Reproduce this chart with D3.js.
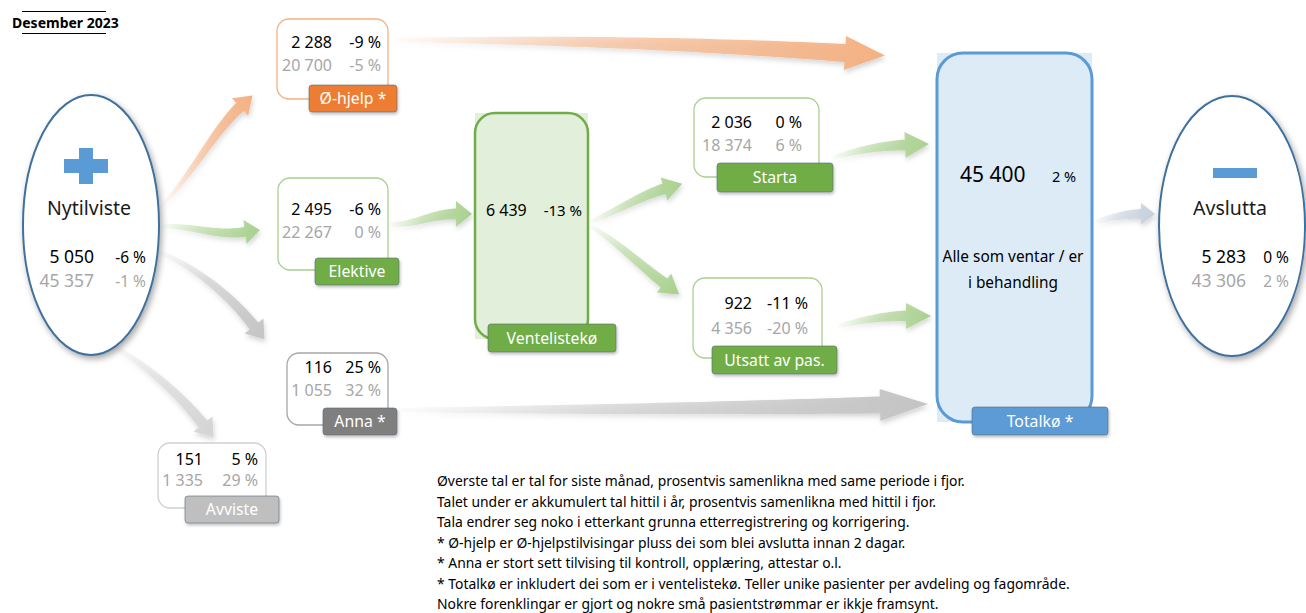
<!DOCTYPE html>
<html><head><meta charset="utf-8">
<script src="https://cdn.jsdelivr.net/npm/d3@7"></script>
<style>html,body{margin:0;padding:0;background:#fff;} svg{display:block;}</style>
</head><body><svg id="c" width="1306" height="613"></svg>
<script>
// ---------------- DATA ----------------
const title = "Desember 2023";
const nodeNames   = ["Nytilviste","Ø-hjelp *","Elektive","Anna *","Avviste","Ventelistekø","Starta","Utsatt av pas.","Totalkø *","Avslutta"];
const monthValues = [5050, 2288, 2495, 116, 151, 6439, 2036, 922, 45400, 5283];
const monthPct    = [-6, -9, -6, 25, 5, -13, 0, -11, 2, 0];
const ytdValues   = [45357, 20700, 22267, 1055, 1335, null, 18374, 4356, null, 43306];
const ytdPct      = [-1, -5, 0, 32, 29, null, 6, -20, null, 2];
const totalDesc   = ["Alle som ventar / er", "i behandling"];
const links = [
  ["Nytilviste","Ø-hjelp *"],["Nytilviste","Elektive"],["Nytilviste","Anna *"],["Nytilviste","Avviste"],
  ["Ø-hjelp *","Totalkø *"],["Elektive","Ventelistekø"],["Ventelistekø","Starta"],["Ventelistekø","Utsatt av pas."],
  ["Starta","Totalkø *"],["Utsatt av pas.","Totalkø *"],["Anna *","Totalkø *"],["Totalkø *","Avslutta"]
];
const notes = [
  "Øverste tal er tal for siste månad, prosentvis samenlikna med same periode i fjor.",
  "Talet under er akkumulert tal hittil i år, prosentvis samenlikna med hittil i fjor.",
  "Tala endrer seg noko i etterkant grunna etterregistrering og korrigering.",
  "* Ø-hjelp er Ø-hjelpstilvisingar pluss dei som blei avslutta innan 2 dagar.",
  "* Anna er stort sett tilvising til kontroll, opplæring, attestar o.l.",
  "* Totalkø er inkludert dei som er i ventelistekø. Teller unike pasienter per avdeling og fagområde.",
  "Nokre forenklingar er gjort og nokre små pasientstrømmar er ikkje framsynt."
];

// ---------------- STYLE / LAYOUT ----------------
const FONT = "'Noto Sans','DejaVu Sans',sans-serif";
const fill = d3.scaleOrdinal().domain(nodeNames)
  .range(["#ffffff","#ed7d31","#70ad47","#7f7f7f","#bfbfbf","#70ad47","#70ad47","#70ad47","#5b9bd5","#ffffff"]);
const edge = d3.scaleOrdinal().domain(nodeNames)
  .range(["#41719c","#f4b183","#a9d18e","#a6a6a6","#d0d0d0","#70ad47","#a9d18e","#a9d18e","#5b9bd5","#41719c"]);
const linkColor = d3.scaleOrdinal().domain(nodeNames)
  .range(["#c5d0dc","#f4b183","#a9d18e","#c4c4c4","#d4d4d4","#a9d18e","#a9d18e","#a9d18e","#c5d0dc","#c5d0dc"]);

const fmt = d3.formatLocale({thousands:" ", grouping:[3], decimal:",", currency:["",""], minus:"-"}).format(",d");
const pct = v => v + " %";

const ellipses = {
  "Nytilviste": {cx:91, cy:225, rx:68, ry:130, icon:"plus", nameY:215, numR:94, pctR:146, b1:263, b2:287},
  "Avslutta":   {cx:1232, cy:226, rx:73, ry:130, icon:"minus", nameY:215, numR:1246, pctR:1289, b1:263, b2:287}
};
const boxes = {
  "Ø-hjelp *":      {x:277, y:19,  w:111, h:80, lx:309, ly:85,  lw:88,  lh:27, numR:332, pctR:381, b1:48,  b2:71},
  "Elektive":       {x:278, y:178, w:110, h:92, lx:315, ly:258, lw:84,  lh:27, numR:332, pctR:381, b1:215, b2:238},
  "Anna *":         {x:287, y:353, w:101, h:72, lx:323, ly:408, lw:74,  lh:27, numR:332, pctR:381, b1:373, b2:396},
  "Avviste":        {x:158, y:443, w:108, h:65, lx:185, ly:496, lw:94,  lh:27, numR:203, pctR:258, b1:465, b2:486},
  "Starta":         {x:694, y:98,  w:125, h:79, lx:717, ly:163, lw:116, lh:29, numR:752, pctR:802, b1:128, b2:151},
  "Utsatt av pas.": {x:693, y:278, w:129, h:80, lx:712, ly:346, lw:125, lh:28, numR:752, pctR:808, b1:309, b2:334}
};
const tall = {
  "Ventelistekø": {x:475, y:113, w:113, h:226, r:20, lx:488, ly:324, lw:128, lh:28, numL:486, pctR:582, b:216, numSize:16, pctSize:15, pctL:null},
  "Totalkø *":    {x:937, y:53,  w:155, h:369, r:26, lx:972, ly:407, lw:136, lh:28, numL:960, pctL:1052, b:182, numSize:21, pctSize:14.5}
};
// arrow geometry: start, two control points, base of head, head length, widths
const geom = {
  "Nytilviste>Ø-hjelp *":        {p:[[163,205],[195,170],[215,130],[240,107]], hl:17, w0:3, w1:11, hw:24},
  "Nytilviste>Elektive":         {p:[[162,226],[195,226],[215,236],[245,232]], hl:15, w0:4, w1:10, hw:24},
  "Nytilviste>Anna *":           {p:[[160,252],[200,270],[232,298],[254,326]], hl:17, w0:4, w1:11, hw:24},
  "Nytilviste>Avviste":          {p:[[112,345],[150,368],[180,395],[203,424]], hl:17, w0:4, w1:11, hw:24},
  "Ø-hjelp *>Totalkø *":         {p:[[395,40],[560,40],[700,44],[845,53]], hl:40, w0:4, w1:18, hw:34},
  "Elektive>Ventelistekø":       {p:[[388,224],[415,226],[430,214],[456,214]], hl:16, w0:4, w1:11, hw:26},
  "Ventelistekø>Starta":         {p:[[590,222],[615,212],[640,196],[664,189]], hl:19, w0:4, w1:11, hw:24},
  "Ventelistekø>Utsatt av pas.": {p:[[590,226],[615,240],[640,265],[664,283]], hl:19, w0:4, w1:11, hw:24},
  "Starta>Totalkø *":            {p:[[832,158],[858,150],[880,146],[905,145]], hl:24, w0:4, w1:11, hw:26},
  "Utsatt av pas.>Totalkø *":    {p:[[838,326],[862,320],[885,316],[906,316]], hl:25, w0:4, w1:11, hw:26},
  "Anna *>Totalkø *":            {p:[[398,410],[560,410],[740,408],[880,405]], hl:48, w0:4, w1:17, hw:32},
  "Totalkø *>Avslutta":          {p:[[1094,222],[1110,218],[1125,214],[1141,214]], hl:14, w0:4, w1:10, hw:22}
};

// ---------------- DRAW ----------------
const svg = d3.select("#c");
const defs = svg.append("defs");
const sh = defs.append("filter").attr("id","shadow").attr("x","-20%").attr("y","-20%").attr("width","150%").attr("height","150%");
sh.append("feDropShadow").attr("dx",2).attr("dy",3).attr("stdDeviation",3).attr("flood-color","#000").attr("flood-opacity",0.35);
const sh2 = defs.append("filter").attr("id","ashadow").attr("x","-20%").attr("y","-50%").attr("width","150%").attr("height","200%");
sh2.append("feDropShadow").attr("dx",1).attr("dy",3).attr("stdDeviation",2.5).attr("flood-color","#000").attr("flood-opacity",0.18);
const sh3 = defs.append("filter").attr("id","lshadow").attr("x","-20%").attr("y","-30%").attr("width","150%").attr("height","180%");
sh3.append("feDropShadow").attr("dx",1).attr("dy",2).attr("stdDeviation",1.5).attr("flood-color","#000").attr("flood-opacity",0.25);

// title
svg.append("text").attr("x",12).attr("y",28).attr("font-family",FONT).attr("font-weight","bold")
  .attr("font-size",14).attr("fill","#000").text(title);
[11.5,33.5].forEach(y => svg.append("line").attr("x1",22).attr("x2",106).attr("y1",y).attr("y2",y)
  .attr("stroke","#000").attr("stroke-width",1.2));

// arrows
function bez(p, t){ const u=1-t; return [
  u*u*u*p[0][0]+3*u*u*t*p[1][0]+3*u*t*t*p[2][0]+t*t*t*p[3][0],
  u*u*u*p[0][1]+3*u*u*t*p[1][1]+3*u*t*t*p[2][1]+t*t*t*p[3][1]]; }
function dbez(p, t){ const u=1-t; const d=[0,1].map(k =>
  3*u*u*(p[1][k]-p[0][k])+6*u*t*(p[2][k]-p[1][k])+3*t*t*(p[3][k]-p[2][k]));
  const L=Math.hypot(d[0],d[1])||1; return [d[0]/L,d[1]/L]; }
const lineGen = d3.line();
const arrowG = svg.append("g");
links.forEach((lk, i) => {
  const g = geom[lk[0]+">"+lk[1]]; if(!g) return;
  const N = 40, L=[], R=[];
  for(let k=0;k<=N;k++){
    const t=k/N, P=bez(g.p,t), T=dbez(g.p,t), n=[-T[1],T[0]];
    const w=(g.w0+(g.w1-g.w0)*Math.pow(t,0.9))/2;
    L.push([P[0]+n[0]*w,P[1]+n[1]*w]); R.push([P[0]-n[0]*w,P[1]-n[1]*w]);
  }
  const B=g.p[3], T=dbez(g.p,1), n=[-T[1],T[0]];
  const tip=[B[0]+T[0]*g.hl, B[1]+T[1]*g.hl];
  const pts = L.concat([[B[0]+n[0]*g.hw/2,B[1]+n[1]*g.hw/2], tip, [B[0]-n[0]*g.hw/2,B[1]-n[1]*g.hw/2]], R.slice().reverse());
  const col = lk[0]==="Nytilviste" ? linkColor(lk[1]) : (lk[1]==="Avslutta" ? linkColor("Avslutta") : linkColor(lk[0]));
  const gid = "grad"+i;
  const gr = defs.append("linearGradient").attr("id",gid).attr("gradientUnits","userSpaceOnUse")
    .attr("x1",g.p[0][0]).attr("y1",g.p[0][1]).attr("x2",tip[0]).attr("y2",tip[1]);
  gr.append("stop").attr("offset",0).attr("stop-color",col).attr("stop-opacity",0.05);
  gr.append("stop").attr("offset",0.4).attr("stop-color",col).attr("stop-opacity",0.55);
  gr.append("stop").attr("offset",1).attr("stop-color",col).attr("stop-opacity",1);
  arrowG.append("path").attr("d",lineGen(pts)+"Z").attr("fill",`url(#${gid})`).attr("filter","url(#ashadow)");
});

// ellipses
Object.entries(ellipses).forEach(([name, e]) => {
  const i = nodeNames.indexOf(name);
  const g = svg.append("g");
  g.append("ellipse").attr("cx",e.cx).attr("cy",e.cy).attr("rx",e.rx).attr("ry",e.ry)
    .attr("fill","#fff").attr("stroke",edge(name)).attr("stroke-width",2).attr("filter","url(#shadow)");
  if(e.icon==="plus"){
    g.append("rect").attr("x",e.cx-27).attr("y",159).attr("width",44).attr("height",14).attr("fill","#5b9bd5");
    g.append("rect").attr("x",e.cx-12).attr("y",148).attr("width",14).attr("height",36).attr("fill","#5b9bd5");
  } else {
    g.append("rect").attr("x",e.cx-19).attr("y",168).attr("width",44).attr("height",10).attr("fill","#5b9bd5");
  }
  g.append("text").attr("x",e.cx-2).attr("y",e.nameY).attr("text-anchor","middle").attr("font-family",FONT)
    .attr("font-size",19.5).attr("fill","#1a1a1a").text(name);
  g.append("text").attr("x",e.numR).attr("y",e.b1).attr("text-anchor","end").attr("font-family",FONT)
    .attr("font-size",17.5).attr("fill","#000").text(fmt(monthValues[i]));
  g.append("text").attr("x",e.pctR).attr("y",e.b1).attr("text-anchor","end").attr("font-family",FONT)
    .attr("font-size",15.5).attr("fill","#000").text(pct(monthPct[i]));
  g.append("text").attr("x",e.numR).attr("y",e.b2).attr("text-anchor","end").attr("font-family",FONT)
    .attr("font-size",17.5).attr("fill","#a6a6a6").text(fmt(ytdValues[i]));
  g.append("text").attr("x",e.pctR).attr("y",e.b2).attr("text-anchor","end").attr("font-family",FONT)
    .attr("font-size",15.5).attr("fill","#a6a6a6").text(pct(ytdPct[i]));
});

function label(g, name, b){
  g.append("rect").attr("x",b.lx).attr("y",b.ly).attr("width",b.lw).attr("height",b.lh).attr("rx",3)
    .attr("fill",fill(name)).attr("stroke","#5a6b7d").attr("stroke-opacity",0.6).attr("stroke-width",1).attr("filter","url(#lshadow)");
  g.append("text").attr("x",b.lx+b.lw/2).attr("y",b.ly+b.lh/2+5.5).attr("text-anchor","middle")
    .attr("font-family",FONT).attr("font-size",15.8).attr("fill","#fff").text(name);
}

// small boxes
Object.entries(boxes).forEach(([name, b]) => {
  const i = nodeNames.indexOf(name);
  const g = svg.append("g");
  g.append("rect").attr("x",b.x).attr("y",b.y).attr("width",b.w).attr("height",b.h).attr("rx",12)
    .attr("fill","#fff").attr("stroke",edge(name)).attr("stroke-width",1.3);
  g.append("text").attr("x",b.numR).attr("y",b.b1).attr("text-anchor","end").attr("font-family",FONT)
    .attr("font-size",16).attr("fill","#000").text(fmt(monthValues[i]));
  g.append("text").attr("x",b.pctR).attr("y",b.b1).attr("text-anchor","end").attr("font-family",FONT)
    .attr("font-size",16).attr("fill","#000").text(pct(monthPct[i]));
  g.append("text").attr("x",b.numR).attr("y",b.b2).attr("text-anchor","end").attr("font-family",FONT)
    .attr("font-size",16).attr("fill","#a6a6a6").text(fmt(ytdValues[i]));
  g.append("text").attr("x",b.pctR).attr("y",b.b2).attr("text-anchor","end").attr("font-family",FONT)
    .attr("font-size",16).attr("fill","#a6a6a6").text(pct(ytdPct[i]));
  label(g, name, b);
});

// tall boxes
Object.entries(tall).forEach(([name, b]) => {
  const i = nodeNames.indexOf(name);
  const g = svg.append("g");
  const light = name==="Totalkø *" ? "#ddebf7" : "#e2efda";
  g.append("rect").attr("x",b.x).attr("y",b.y).attr("width",b.w).attr("height",b.h).attr("fill",light);
  g.append("rect").attr("x",b.x).attr("y",b.y).attr("width",b.w).attr("height",b.h).attr("rx",b.r)
    .attr("fill","none").attr("stroke",edge(name)).attr("stroke-width",name==="Totalkø *"?3:2.5);
  g.append("text").attr("x",b.numL).attr("y",b.b).attr("font-family",FONT).attr("font-size",b.numSize)
    .attr("fill","#000").text(fmt(monthValues[i]));
  const pt = g.append("text").attr("y",b.b).attr("font-family",FONT).attr("font-size",b.pctSize).attr("fill","#000").text(pct(monthPct[i]));
  if(b.pctL!=null) pt.attr("x",b.pctL); else pt.attr("x",b.pctR).attr("text-anchor","end");
  if(name==="Totalkø *"){
    totalDesc.forEach((t,k) => g.append("text").attr("x",1013).attr("y",262+k*26).attr("text-anchor","middle")
      .attr("font-family",FONT).attr("font-size",15.4).attr("fill","#000").text(t));
  }
  label(g, name, b);
});

// notes
svg.append("g").selectAll("text").data(notes).join("text")
  .attr("x",437).attr("y",(d,k)=>486+k*20.5).attr("font-family",FONT).attr("font-size",13.9).attr("fill","#000").text(d=>d);
</script></body></html>
